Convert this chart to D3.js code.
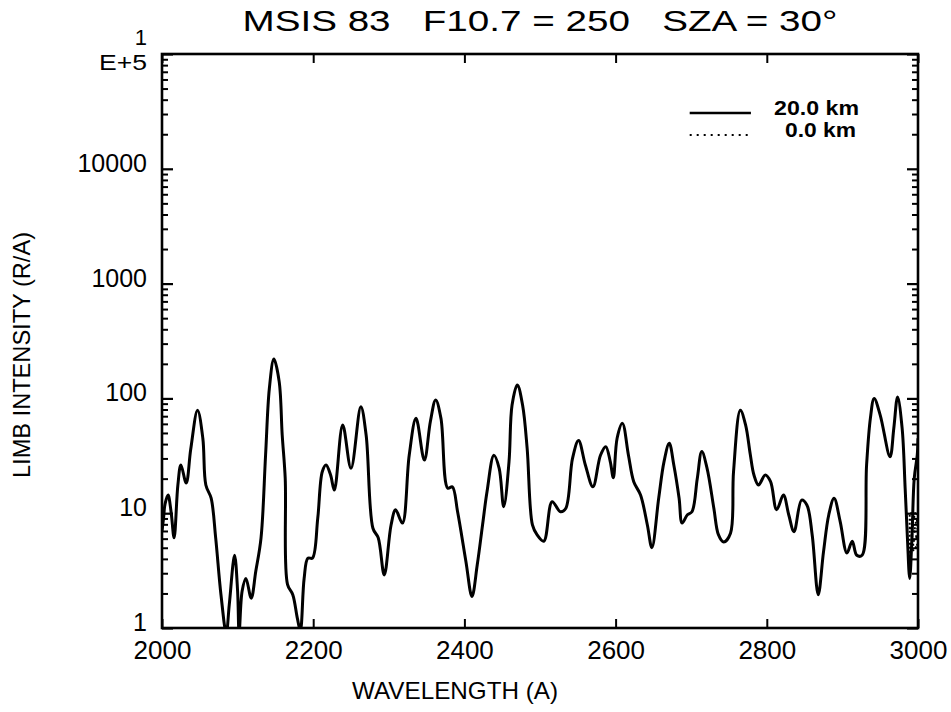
<!DOCTYPE html>
<html>
<head>
<meta charset="utf-8">
<script src="https://cdn.jsdelivr.net/npm/d3@7"></script>
<style>
  html, body { margin: 0; padding: 0; background: #fff; }
  svg { display: block; }
  text { font-family: "Liberation Sans", Arial, sans-serif; fill: #000; white-space: pre; }
</style>
</head>
<body>
<svg id="chart" width="951" height="712"></svg>
<script>
// Limb intensity spectrum, 20.0 km tangent altitude (wavelength in Angstrom, R/A)
const wavelength20 = [
  2000, 2002, 2004, 2008, 2012, 2016, 2021, 2025, 2032, 2038, 2047, 2054, 2058, 2065,
  2071, 2078, 2085, 2089, 2096, 2100, 2102, 2106, 2111, 2118, 2124, 2131, 2137, 2142,
  2148, 2155, 2159, 2163, 2166, 2173, 2179, 2183, 2188, 2193, 2199, 2206, 2212, 2217,
  2223, 2228, 2239, 2250, 2263, 2270, 2279, 2286, 2294, 2303, 2309, 2318, 2327, 2336,
  2347, 2355, 2362, 2369, 2378, 2384, 2391, 2402, 2410, 2417, 2424, 2430, 2439, 2446,
  2452, 2459, 2463, 2470, 2477, 2483, 2490, 2496, 2505, 2516, 2527, 2534, 2543, 2551,
  2560, 2570, 2580, 2587, 2593, 2597, 2602, 2609, 2617, 2624, 2633, 2642, 2648, 2657,
  2664, 2671, 2677, 2684, 2688, 2695, 2701, 2708, 2714, 2721, 2730, 2736, 2743, 2752,
  2756, 2765, 2772, 2778, 2783, 2789, 2798, 2805, 2813, 2822, 2829, 2836, 2846, 2853,
  2860, 2868, 2875, 2882, 2889, 2897, 2906, 2913, 2919, 2926, 2932, 2937, 2942, 2950,
  2963, 2968, 2973, 2979, 2983, 2986, 2989, 2992, 2995, 2999, 3000
];
const intensity20 = [
  7, 9, 12, 14.4, 10.3, 6.1, 17.6, 26.3, 18.3, 36, 79, 45, 17.6, 13.5,
  6.1, 1.95, 0.9, 1.6, 4.3, 2.1, 0.9, 2.1, 2.7, 1.82, 3.1, 6.1, 32, 122,
  220, 140, 48, 20, 2.4, 1.95, 1.22, 0.95, 2.7, 4.06, 4.06, 9, 23, 26.3,
  21.5, 15.9, 58.6, 24.6, 84.7, 48, 7.4, 6.1, 2.9, 7.9, 10.7, 8.2, 32, 67,
  29, 63, 97, 67, 16.5, 17, 10.3, 3.8, 1.88, 3.55, 7.9, 15.5, 32, 24.6,
  11.4, 28, 87, 131, 87, 36.7, 7.9, 6.5, 5.7, 12.6, 10.3, 11, 30, 43,
  26.3, 17, 32, 38, 28, 20.4, 45, 60.6, 32, 18.8, 14.4, 7.9, 5, 13.5,
  28, 40.6, 26.3, 13.5, 8.2, 9.7, 10.3, 20, 34.4, 24.6, 11, 6.5, 5.6, 6.7,
  23, 79, 58.6, 33, 21.5, 17.6, 21.5, 18.8, 10.7, 14.4, 9.7, 6.9, 13, 11.8,
  6.5, 1.95, 4.6, 9.7, 13.5, 8.5, 4.5, 5.7, 4.3, 4.3, 26.3, 67, 100, 71.6,
  31, 55, 103, 55, 16.5, 6.1, 2.7, 6.1, 20, 32, 45
];

// Limb intensity at 0.0 km: only visible above 1 R/A at the long-wavelength end
const wavelength0 = [2989, 2989, 3000, 2990, 3000, 2990, 3000, 2990, 3000, 2990, 3000, 2989];
const intensity0  = [2.8, 10, 10, 8.6, 8.6, 7.4, 7.4, 6.3, 6.3, 5.3, 5.3, 4.4];

const xTicks = [2000, 2200, 2400, 2600, 2800, 3000];
const yMajorTicks = [1, 10, 100, 1000, 10000, 100000];
const yTickLabels = ["1", "10", "100", "1000", "10000", ""];
const yTopLabel = ["1", "E+5"];   // 1E+5 written as mantissa over exponent

const titleText = "MSIS 83   F10.7 = 250   SZA = 30°";
const xTitle = "WAVELENGTH (A)";
const yTitle = "LIMB INTENSITY (R/A)";
const legendLabels = ["20.0 km", "0.0 km"];

const svg = d3.select("#chart");
const W = 951, H = 712;
const margin = { top: 54, right: 33, bottom: 84, left: 162 };
const iw = W - margin.left - margin.right;
const ih = H - margin.top - margin.bottom;

const x = d3.scaleLinear().domain([2000, 3000]).range([0, iw]);
const y = d3.scaleLog().domain([1, 100000]).range([ih, 0]);

const g = svg.append("g").attr("transform", `translate(${margin.left},${margin.top})`);

g.append("clipPath").attr("id", "plotClip")
  .append("rect").attr("x", 0).attr("y", 0).attr("width", iw).attr("height", ih);

// minor log ticks (2..9 of each decade)
const yMinor = [];
for (let d = 0; d < 5; d++) for (let m = 2; m <= 9; m++) yMinor.push(m * Math.pow(10, d));

function styleAxis(sel, w) {
  sel.select(".domain").remove();
  sel.selectAll(".tick line").attr("stroke", "#000").attr("stroke-width", w);
}

// left axis: inward ticks
g.append("g").call(d3.axisLeft(y).tickValues(yMinor).tickSize(-6).tickFormat(""))
  .call(s => styleAxis(s, 2));
const yLeft = g.append("g").call(d3.axisLeft(y).tickValues(yMajorTicks).tickSize(-11).tickPadding(15)
    .tickFormat((d, i) => yTickLabels[i]))
  .call(s => styleAxis(s, 2.2));
yLeft.selectAll(".tick text")
  .attr("font-size", 25).attr("font-family", "Liberation Sans, Arial, sans-serif")
  .attr("dy", "0.1em");

// top decade label, stacked in two lines
const topTick = y(100000);
g.append("text").attr("x", -15).attr("y", topTick - 9).attr("text-anchor", "end")
  .attr("font-size", 22).text(yTopLabel[0]);
g.append("text").attr("x", -15).attr("y", topTick + 16).attr("text-anchor", "end")
  .attr("font-size", 22).attr("textLength", 48).attr("lengthAdjust", "spacingAndGlyphs")
  .text(yTopLabel[1]);

// right axis: inward ticks, no labels
g.append("g").attr("transform", `translate(${iw},0)`)
  .call(d3.axisRight(y).tickValues(yMinor).tickSize(-6).tickFormat(""))
  .call(s => styleAxis(s, 2));
g.append("g").attr("transform", `translate(${iw},0)`)
  .call(d3.axisRight(y).tickValues(yMajorTicks).tickSize(-11).tickFormat(""))
  .call(s => styleAxis(s, 2.2));

// bottom axis with labels, top axis ticks only
const xBottom = g.append("g").attr("transform", `translate(0,${ih})`)
  .call(d3.axisBottom(x).tickValues(xTicks).tickSize(-9).tickPadding(13).tickFormat(d3.format("d")))
  .call(s => styleAxis(s, 2));
xBottom.selectAll(".tick text").attr("font-size", 26)
  .attr("font-family", "Liberation Sans, Arial, sans-serif");
g.append("g")
  .call(d3.axisTop(x).tickValues(xTicks).tickSize(-9).tickFormat(""))
  .call(s => styleAxis(s, 2));

// frame
g.append("rect").attr("x", 0).attr("y", 0).attr("width", iw).attr("height", ih)
  .attr("fill", "none").attr("stroke", "#000").attr("stroke-width", 2.6);

// spectra
const data20 = wavelength20.map((w, i) => [w, intensity20[i]]);
const data0 = wavelength0.map((w, i) => [w, intensity0[i]]);

const line20 = d3.line()
  .x(d => x(d[0])).y(d => y(Math.max(d[1], 0.5)))
  .curve(d3.curveCatmullRom.alpha(0.5));
const line0 = d3.line().x(d => x(d[0])).y(d => y(Math.max(d[1], 0.5)));

const plot = g.append("g").attr("clip-path", "url(#plotClip)");
plot.append("path").datum(data20).attr("d", line20)
  .attr("fill", "none").attr("stroke", "#000").attr("stroke-width", 3)
  .attr("stroke-linejoin", "round");
plot.append("path").datum(data0).attr("d", line0)
  .attr("fill", "none").attr("stroke", "#000").attr("stroke-width", 2)
  .attr("stroke-dasharray", "2,2");

// legend
const legend = g.append("g");
const lx0 = x(2698), lx1 = x(2779);
legend.append("line").attr("x1", lx0).attr("x2", lx1).attr("y1", 59).attr("y2", 59)
  .attr("stroke", "#000").attr("stroke-width", 2.6);
legend.append("line").attr("x1", lx0).attr("x2", lx1).attr("y1", 81).attr("y2", 81)
  .attr("stroke", "#000").attr("stroke-width", 2).attr("stroke-dasharray", "2,5");
legend.append("text").attr("x", 697).attr("y", 61).attr("text-anchor", "end")
  .attr("font-size", 20).attr("font-weight", "bold")
  .attr("textLength", 85).attr("lengthAdjust", "spacingAndGlyphs").text(legendLabels[0]);
legend.append("text").attr("x", 694).attr("y", 83).attr("text-anchor", "end")
  .attr("font-size", 20).attr("font-weight", "bold")
  .attr("textLength", 71).attr("lengthAdjust", "spacingAndGlyphs").text(legendLabels[1]);

// titles
svg.append("text").attr("x", 540).attr("y", 31).attr("text-anchor", "middle")
  .attr("font-size", 30).attr("textLength", 595).attr("lengthAdjust", "spacingAndGlyphs")
  .text(titleText);
svg.append("text").attr("x", 455).attr("y", 699).attr("text-anchor", "middle")
  .attr("font-size", 24).attr("textLength", 206).attr("lengthAdjust", "spacingAndGlyphs")
  .text(xTitle);
svg.append("text").attr("transform", "translate(30,355) rotate(-90)").attr("text-anchor", "middle")
  .attr("font-size", 24).attr("textLength", 246).attr("lengthAdjust", "spacingAndGlyphs")
  .text(yTitle);
</script>
</body>
</html>
